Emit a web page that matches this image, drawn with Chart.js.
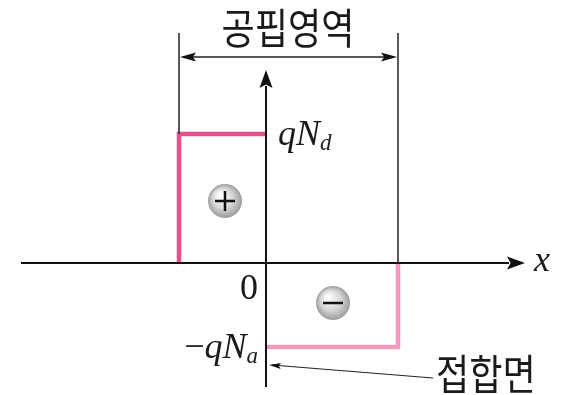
<!DOCTYPE html>
<html lang="ko">
  <head>
    <meta charset="UTF-8" />
    <title>공핍영역 전하밀도</title>
    <script src="https://cdn.jsdelivr.net/npm/chart.js"></script>
    <style>
      body { margin: 0; background: #fff; }
      #wrap { width: 563px; height: 395px; }
    </style>
  </head>
  <body>
    <div id="wrap"><canvas id="chargeChart"></canvas></div>
    <script>
      // 1 unit = 100px of the figure, origin at the junction on the x axis
      const edgeP = -0.87; // p-side edge of depletion region
      const edgeN = 1.32; // n-side edge
      const levelNd = 1.29; // qNd
      const levelNa = -0.84; // -qNa

      const donorX = [edgeP, edgeP, 0];
      const donorY = [0, levelNd, levelNd];
      const acceptorX = [0, edgeN, edgeN];
      const acceptorY = [levelNa, levelNa, 0];

      const xAxisX = [-2.45, 2.43];
      const yAxisY = [-1.24, 1.77];

      const labels = {
        region: "공핍영역",
        junction: "접합면",
        zero: "0",
        axis: "x",
      };

      const toPts = (xs, ys) => xs.map((x, i) => ({ x: x, y: ys[i] }));

      // arrowheads, bracket, labels and charge balls
      const decor = {
        id: "decor",
        afterDatasetsDraw(chart) {
          const { ctx } = chart;
          const sx = chart.scales.x;
          const sy = chart.scales.y;
          const px = (v) => sx.getPixelForValue(v);
          const py = (v) => sy.getPixelForValue(v);

          function head(x, y, ang, len, w) {
            ctx.save();
            ctx.translate(x, y);
            ctx.rotate(ang);
            ctx.beginPath();
            ctx.moveTo(0, 0);
            ctx.lineTo(-len, -w / 2);
            ctx.lineTo(-len * 0.8, 0);
            ctx.lineTo(-len, w / 2);
            ctx.closePath();
            ctx.fill();
            ctx.restore();
          }

          ctx.save();
          ctx.fillStyle = "#111";
          ctx.strokeStyle = "#222";

          // axis arrowheads
          head(px(xAxisX[1]) + 16, py(0), 0, 18, 13);
          head(px(0), py(yAxisY[1]) - 16, -Math.PI / 2, 18, 13);

          // depletion region edges and bracket
          const topY = py(2.3);
          const brY = py(2.06);
          ctx.lineWidth = 1.5;
          ctx.beginPath();
          ctx.moveTo(px(edgeP), topY);
          ctx.lineTo(px(edgeP), py(levelNd));
          ctx.moveTo(px(edgeN), topY);
          ctx.lineTo(px(edgeN), py(0));
          ctx.moveTo(px(edgeP) + 4, brY);
          ctx.lineTo(px(edgeN) - 4, brY);
          ctx.stroke();
          head(px(edgeN) - 1, brY, 0, 16, 9);
          head(px(edgeP) + 1, brY, Math.PI, 16, 9);

          // junction pointer
          ctx.lineWidth = 1.2;
          ctx.beginPath();
          ctx.moveTo(433, 378);
          ctx.lineTo(px(0) + 6, 365);
          ctx.stroke();
          head(px(0) + 3, 365, Math.atan2(365 - 378, px(0) + 3 - 433), 12, 6);

          // charge balls
          function ball(cx, cy, sign) {
            const x = px(cx), y = py(cy), r = 17;
            const g = ctx.createRadialGradient(x - 5, y - 6, 2, x, y, r);
            g.addColorStop(0, "#fcfcfc");
            g.addColorStop(0.55, "#d6d6d6");
            g.addColorStop(1, "#9c9c9c");
            ctx.fillStyle = g;
            ctx.beginPath();
            ctx.arc(x, y, r, 0, Math.PI * 2);
            ctx.fill();
            ctx.strokeStyle = "#111";
            ctx.lineWidth = 2.5;
            ctx.beginPath();
            ctx.moveTo(x - 10, y);
            ctx.lineTo(x + 10, y);
            if (sign > 0) {
              ctx.moveTo(x, y - 10);
              ctx.lineTo(x, y + 10);
            }
            ctx.stroke();
          }
          ball(-0.41, 0.62, 1);
          ball(0.67, -0.4, -1);

          // Korean labels (condensed)
          ctx.fillStyle = "#1a1a1a";
          function hangul(text, x, y, align) {
            ctx.save();
            ctx.translate(x, y);
            ctx.scale(0.86, 1);
            ctx.font = '400 42px "Noto Sans CJK KR"';
            ctx.textAlign = align;
            ctx.textBaseline = "alphabetic";
            ctx.fillText(text, 0, 0);
            ctx.restore();
          }
          hangul(labels.region, 288, 44, "center");
          hangul(labels.junction, 436, 390, "left");

          // math labels
          ctx.textBaseline = "alphabetic";
          function math(parts, x, y, align) {
            // parts: [text, italic, sub]
            const font = (p) => (p[1] ? "italic " : "") + (p[2] ? "23px" : "36px") + ' "Liberation Serif"';
            let w = 0;
            parts.forEach((p) => {
              ctx.font = font(p);
              w += ctx.measureText(p[0]).width;
            });
            let cx = align === "right" ? x - w : x;
            parts.forEach((p) => {
              ctx.font = font(p);
              ctx.fillText(p[0], cx, p[2] ? y + 5 : y);
              cx += ctx.measureText(p[0]).width;
            });
          }
          math([["q", true], ["N", true], ["d", true, true]], px(0) + 12, py(levelNd) + 11, "left");
          math([["\u2212", false], ["q", true], ["N", true], ["a", true, true]], px(0) - 8, py(levelNa) + 11, "right");
          math([[labels.zero, false]], px(0) - 8, 299, "right");
          math([[labels.axis, true]], 534, 271, "left");
          ctx.restore();
        },
      };

      new Chart(document.getElementById("chargeChart"), {
        type: "scatter",
        data: {
          datasets: [
            {
              data: toPts(xAxisX, [0, 0]),
              showLine: true,
              borderColor: "#111",
              borderWidth: 2,
              pointRadius: 0,
            },
            {
              data: toPts([0, 0], yAxisY),
              showLine: true,
              borderColor: "#111",
              borderWidth: 2,
              pointRadius: 0,
            },
            {
              data: toPts(donorX, donorY),
              showLine: true,
              borderColor: "#e5508d",
              borderWidth: 4.5,
              pointRadius: 0,
            },
            {
              data: toPts(acceptorX, acceptorY),
              showLine: true,
              borderColor: "#f39ac0",
              borderWidth: 4.5,
              pointRadius: 0,
            },
          ],
        },
        options: {
          responsive: true,
          maintainAspectRatio: false,
          animation: false,
          layout: { padding: 0 },
          plugins: { legend: { display: false }, tooltip: { enabled: false } },
          scales: {
            x: { type: "linear", display: false, min: -2.66, max: 2.97 },
            y: { type: "linear", display: false, min: -1.32, max: 2.63 },
          },
        },
        plugins: [decor],
      });
    </script>
  </body>
</html>
